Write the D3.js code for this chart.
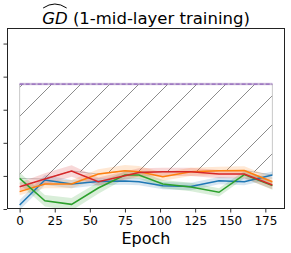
<!DOCTYPE html>
<html>
<head>
<meta charset="utf-8">
<script src="https://cdn.jsdelivr.net/npm/d3@7"></script>
<style>
  body { margin: 0; background: #fff; }
  svg { display: block; font-family: "DejaVu Sans", sans-serif; }
</style>
</head>
<body>
<div id="graph1"></div>
<script>
// Chart data
const epochs = [0, 18, 37, 56, 75, 85, 102, 122, 142, 160, 180];
const blueMean   = [0.024, 0.175, 0.151, 0.166, 0.169, 0.165, 0.141, 0.136, 0.171, 0.165, 0.205];
const orangeMean = [0.105, 0.151, 0.151, 0.211, 0.231, 0.225, 0.195, 0.225, 0.231, 0.233, 0.165];
const greenMean  = [0.185, 0.050, 0.028, 0.127, 0.205, 0.205, 0.151, 0.133, 0.101, 0.208, 0.141];
const redMean    = [0.135, 0.181, 0.230, 0.165, 0.201, 0.221, 0.225, 0.225, 0.211, 0.211, 0.145];
const blueStd    = [0.030, 0.030, 0.025, 0.022, 0.022, 0.022, 0.022, 0.022, 0.022, 0.022, 0.022];
const orangeStd  = [0.022, 0.025, 0.025, 0.030, 0.035, 0.035, 0.025, 0.025, 0.025, 0.025, 0.025];
const greenStd   = [0.035, 0.035, 0.038, 0.035, 0.022, 0.022, 0.025, 0.025, 0.025, 0.022, 0.025];
const redStd     = [0.025, 0.035, 0.035, 0.025, 0.025, 0.025, 0.025, 0.025, 0.025, 0.025, 0.025];
const upperBound = 0.755;
const xTicks = [0, 25, 50, 75, 100, 125, 150, 175];
const yTicks = [0, 0.2, 0.4, 0.6, 0.8, 1.0];

const width = 291, height = 253;
const margin = {top: 28, right: 6, bottom: 44, left: 7};

let svg = d3.select("#graph1")
    .append("svg")
    .attr("width", width)
    .attr("height", height);

// Scales (matplotlib style 5% x padding)
let x = d3.scaleLinear()
    .domain([-9, 189])
    .range([margin.left, width - margin.right]);

let y = d3.scaleLinear()
    .domain([0, 1.094])
    .range([height - margin.bottom, margin.top]);

// Hatch pattern
let defs = svg.append("defs");
let pat = defs.append("pattern")
    .attr("id", "hatch")
    .attr("patternUnits", "userSpaceOnUse")
    .attr("width", 29)
    .attr("height", 29)
    .attr("x", 20)
    .attr("y", 0);
pat.append("path")
    .attr("d", "M-8,8 L8,-8 M0,29 L29,0 M21,37 L37,21")
    .attr("stroke", "#6f6f6f")
    .attr("stroke-width", 0.8);

let clip = defs.append("clipPath").attr("id", "plotclip");
clip.append("rect")
    .attr("x", margin.left).attr("y", margin.top)
    .attr("width", width - margin.left - margin.right)
    .attr("height", height - margin.top - margin.bottom);

let plot = svg.append("g").attr("clip-path", "url(#plotclip)");

// Hatched region: between the upper envelope of the means and the bound
let series = [
    {mean: blueMean, std: blueStd, color: "#1f77b4"},
    {mean: orangeMean, std: orangeStd, color: "#ff7f0e"},
    {mean: greenMean, std: greenStd, color: "#2ca02c"},
    {mean: redMean, std: redStd, color: "#d62728"}
];
let envelope = epochs.map((e, i) => d3.max(series, s => s.mean[i]));

let hatchArea = d3.area()
    .x((d, i) => x(epochs[i]))
    .y0(d => y(d))
    .y1(y(upperBound));

plot.append("path")
    .datum(envelope)
    .attr("d", hatchArea)
    .attr("fill", "url(#hatch)")
    .attr("stroke", "#c8c8c8")
    .attr("stroke-width", 1);

// Shaded bands
let band = d3.area()
    .x((d, i) => x(epochs[i]))
    .y0(d => y(d[0] - d[1]))
    .y1(d => y(d[0] + d[1]));

series.forEach(function(s) {
    plot.append("path")
        .datum(s.mean.map((m, i) => [m, s.std[i]]))
        .attr("d", band)
        .attr("fill", s.color)
        .attr("fill-opacity", 0.18);
});

// Mean lines
let line = d3.line()
    .x((d, i) => x(epochs[i]))
    .y(d => y(d));

series.forEach(function(s) {
    plot.append("path")
        .datum(s.mean)
        .attr("d", line)
        .attr("fill", "none")
        .attr("stroke", s.color)
        .attr("stroke-width", 1.5);
});

// Upper bound dashed line
plot.append("line")
    .attr("x1", x(epochs[0])).attr("x2", x(epochs[epochs.length - 1]))
    .attr("y1", y(upperBound)).attr("y2", y(upperBound))
    .attr("stroke", "#9467bd")
    .attr("stroke-opacity", 0.35)
    .attr("stroke-width", 2.5);
plot.append("line")
    .attr("x1", x(epochs[0])).attr("x2", x(epochs[epochs.length - 1]))
    .attr("y1", y(upperBound)).attr("y2", y(upperBound))
    .attr("stroke", "#9467bd")
    .attr("stroke-width", 1.2)
    .attr("stroke-dasharray", "4,2");

// Axes
let xAxis = svg.append("g")
    .attr("transform", `translate(0, ${height - margin.bottom})`)
    .call(d3.axisBottom(x).tickValues(xTicks).tickSize(3.5).tickPadding(3.5));
xAxis.selectAll("text")
    .style("font-size", "12px")
    .style("font-family", "DejaVu Sans")
    .attr("fill", "#000");

let yAxis = svg.append("g")
    .attr("transform", `translate(${margin.left}, 0)`)
    .call(d3.axisLeft(y).tickValues(yTicks).tickSize(3.5).tickFormat(""));

svg.selectAll(".domain").remove();
svg.selectAll(".tick line").attr("stroke", "#000").attr("stroke-width", 0.8);

// Frame
svg.append("rect")
    .attr("x", margin.left + 0.5)
    .attr("y", margin.top + 0.5)
    .attr("width", width - margin.left - margin.right - 1)
    .attr("height", height - margin.top - margin.bottom - 1)
    .attr("fill", "none")
    .attr("stroke", "#222")
    .attr("stroke-width", 1);

// X label
svg.append("text")
    .attr("x", (margin.left + width - margin.right) / 2)
    .attr("y", 244)
    .attr("text-anchor", "middle")
    .style("font-size", "16px")
    .text("Epoch");

// Title with wide hat over GD
let title = svg.append("text")
    .attr("x", (margin.left + width - margin.right) / 2)
    .attr("y", 24)
    .attr("text-anchor", "middle")
    .style("font-size", "16.5px");
let gd = title.append("tspan")
    .style("font-style", "italic")
    .text("GD");
title.append("tspan").text(" (1-mid-layer training)");

let gdBox = gd.node().getBBox();
let hx0 = gdBox.x + 1, hx1 = gdBox.x + gdBox.width - 1;
svg.append("path")
    .attr("d", `M${hx0},8 Q${(hx0 + hx1) / 2},0 ${hx1},8`)
    .attr("fill", "none")
    .attr("stroke", "#000")
    .attr("stroke-width", 1);
</script>
</body>
</html>
